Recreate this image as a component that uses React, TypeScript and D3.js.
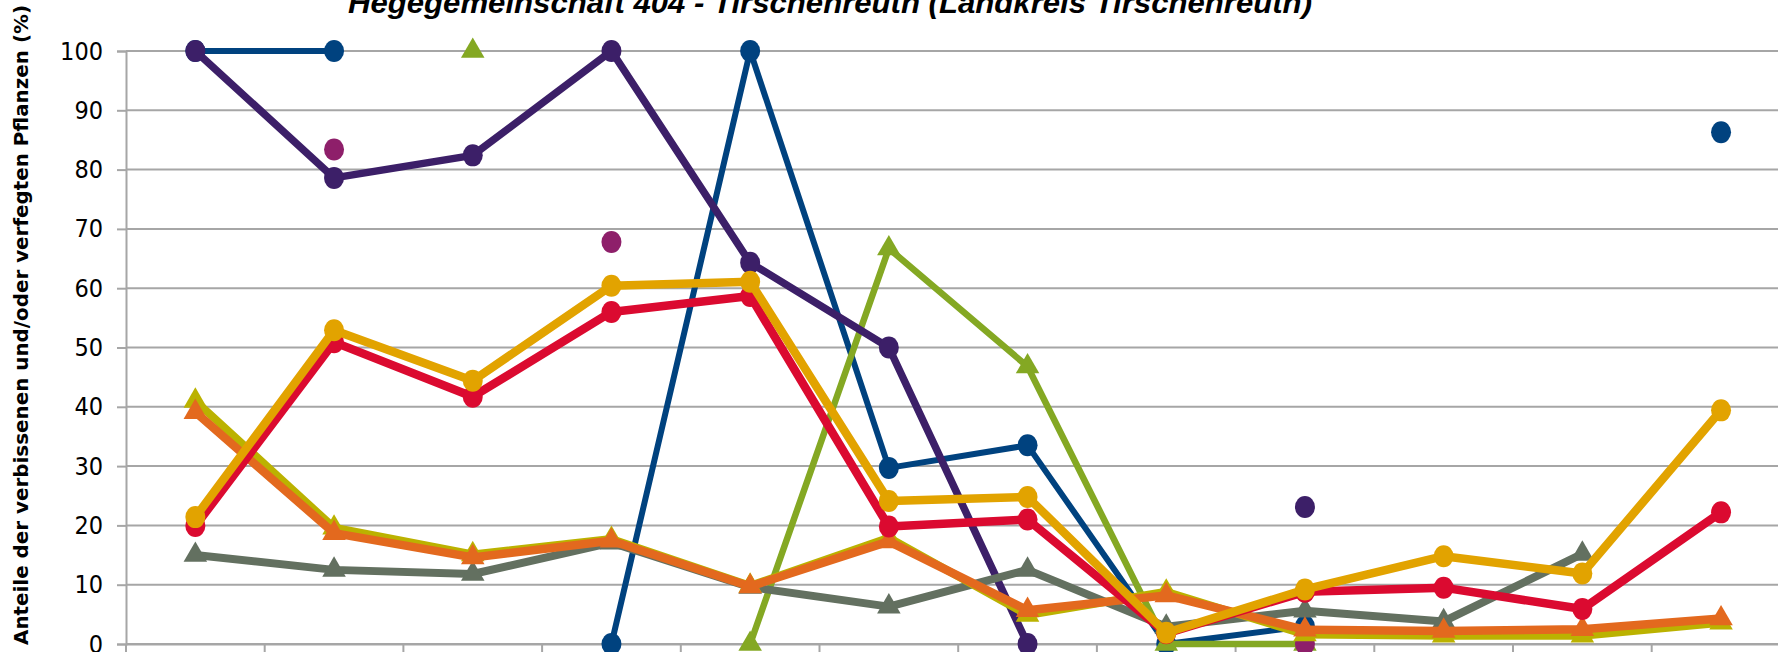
import React, { useEffect, useRef } from 'react';
import * as d3 from 'd3';

// Erhebungen (x-Achsenbeschriftung liegt ausserhalb des Bildausschnitts)
const categories = ['1991', '1994', '1997', '2000', '2003', '2006', '2009', '2012', '2015', '2018', '2021', '2024'];
const yTicks = [0, 10, 20, 30, 40, 50, 60, 70, 80, 90, 100];

type V = number | null;

const blau: V[] = [100, 100, null, 0, 100, 29.7, 33.5, 0, 3.0, null, null, 86.3];
const violett: V[] = [100, 78.6, 82.4, 100, 64.3, 50, 0, null, 23.1, null, null, null];
const magenta: V[] = [null, 83.4, null, 67.8, null, null, null, null, 0, null, null, null];
const gruen: V[] = [null, null, 100, null, 0, 66.7, 46.8, 0, 0, null, null, null];
const grau: V[] = [15.0, 12.5, 11.8, 17.1, 9.6, 6.3, 12.5, 2.9, 5.6, 3.8, 15.2, null];
const oliv: V[] = [41.0, 19.6, 15.1, 17.7, 9.8, 17.9, 4.9, 8.8, 1.6, 1.4, 1.4, 3.6];
const orange: V[] = [39.1, 18.7, 14.6, 17.4, 9.7, 17.3, 5.7, 8.2, 2.4, 2.2, 2.5, 4.3];
const rot: V[] = [19.9, 50.9, 41.7, 56.0, 58.7, 19.8, 21.0, 1.8, 8.8, 9.5, 5.9, 22.2];
const gelb: V[] = [21.4, 52.9, 44.4, 60.4, 61.1, 24.1, 24.8, 1.9, 9.2, 14.8, 11.9, 39.4];

// Zeichenreihenfolge: von unten nach oben
const series = [
  { values: blau, color: '#00427F', width: 6, marker: 'circle', line: true },
  { values: gruen, color: '#84A823', width: 6.5, marker: 'triangle', line: true },
  { values: violett, color: '#3C1F68', width: 7.5, marker: 'circle', line: true },
  { values: magenta, color: '#8E1F6A', width: 7, marker: 'circle', line: false },
  { values: grau, color: '#637060', width: 8, marker: 'triangle', line: true },
  { values: oliv, color: '#BBB200', width: 8, marker: 'triangle', line: true },
  { values: orange, color: '#E3691E', width: 8.5, marker: 'triangle', line: true },
  { values: rot, color: '#DB0A30', width: 8.5, marker: 'circle', line: true },
  { values: gelb, color: '#E2A300', width: 8.5, marker: 'circle', line: true },
];

const App: React.FC = () => {
  const svgRef = useRef<SVGSVGElement>(null);

  useEffect(() => {
    if (!svgRef.current) return;
    const width = 1778;
    const height = 652;
    const left = 126;
    const band = 138.7;

    const svg = d3.select(svgRef.current);
    svg.selectAll('*').remove();
    svg.attr('width', width).attr('height', height);

    svg.append('rect').attr('width', width).attr('height', height).attr('fill', '#fff');

    const x = d3.scaleBand<string>()
      .domain(categories)
      .range([left, left + band * categories.length]);

    const y = d3.scaleLinear().domain([0, 100]).range([644, 51]);

    // Gitterlinien
    svg.append('g')
      .selectAll('line')
      .data(yTicks)
      .enter()
      .append('line')
      .attr('x1', left)
      .attr('x2', width)
      .attr('y1', d => y(d))
      .attr('y2', d => y(d))
      .attr('stroke', '#A6A6A6')
      .attr('stroke-width', 2);

    // y-Achse
    svg.append('g')
      .attr('transform', `translate(${left},0)`)
      .call(d3.axisLeft(y).tickValues(yTicks).tickSize(9).tickPadding(14))
      .call(g => g.select('.domain').attr('stroke', '#A6A6A6').attr('stroke-width', 2))
      .call(g => g.selectAll('.tick line').attr('stroke', '#A6A6A6').attr('stroke-width', 2))
      .call(g => g.selectAll('.tick text')
        .attr('fill', '#000')
        .attr('font-size', 25)
        .attr('font-family', '"Liberation Sans Narrow", "DejaVu Sans Condensed", "Liberation Sans", sans-serif'));

    // x-Achse (nur Teilstriche sichtbar)
    svg.append('g')
      .attr('transform', `translate(0,${y(0)})`)
      .call(d3.axisBottom(x).tickSize(0).tickFormat(() => ''))
      .call(g => g.select('.domain').attr('stroke', '#A6A6A6').attr('stroke-width', 2));

    svg.append('g')
      .selectAll('line')
      .data(d3.range(categories.length + 1))
      .enter()
      .append('line')
      .attr('x1', i => left + i * band)
      .attr('x2', i => left + i * band)
      .attr('y1', y(0))
      .attr('y2', y(0) + 10)
      .attr('stroke', '#A6A6A6')
      .attr('stroke-width', 2);

    const cx = (i: number) => (x(categories[i]) as number) + x.bandwidth() / 2;

    const line = d3.line<V>()
      .defined(d => d != null)
      .x((_, i) => cx(i))
      .y(d => y(d as number));

    const tri = d3.symbol().type(d3.symbolTriangle).size(240);

    series.forEach(s => {
      const g = svg.append('g');
      if (s.line) {
        g.append('path')
          .datum(s.values)
          .attr('fill', 'none')
          .attr('stroke', s.color)
          .attr('stroke-width', s.width)
          .attr('stroke-linejoin', 'round')
          .attr('d', line);
      }
      const pts = s.values
        .map((v, i) => ({ v, i }))
        .filter(p => p.v != null);
      if (s.marker === 'circle') {
        g.selectAll('ellipse')
          .data(pts)
          .enter()
          .append('ellipse')
          .attr('cx', p => cx(p.i))
          .attr('cy', p => y(p.v as number))
          .attr('rx', 10)
          .attr('ry', 11)
          .attr('fill', s.color);
      } else {
        g.selectAll('path.m')
          .data(pts)
          .enter()
          .append('path')
          .attr('class', 'm')
          .attr('transform', p => `translate(${cx(p.i)},${y(p.v as number)})`)
          .attr('d', tri as any)
          .attr('fill', s.color);
      }
    });

    // Titel (oben angeschnitten)
    svg.append('text')
      .attr('x', 830)
      .attr('y', 13)
      .attr('text-anchor', 'middle')
      .attr('font-family', '"Liberation Sans", Arial, sans-serif')
      .attr('font-weight', 'bold')
      .attr('font-style', 'italic')
      .attr('font-size', 30)
      .attr('textLength', 964)
      .attr('lengthAdjust', 'spacingAndGlyphs')
      .text('Hegegemeinschaft 404 - Tirschenreuth (Landkreis Tirschenreuth)');

    // y-Achsentitel
    svg.append('text')
      .attr('transform', 'translate(28,325) rotate(-90)')
      .attr('text-anchor', 'middle')
      .attr('font-family', '"DejaVu Sans", sans-serif')
      .attr('font-weight', 'bold')
      .attr('font-size', 20)
      .attr('textLength', 640)
      .attr('lengthAdjust', 'spacingAndGlyphs')
      .text('Anteile der verbissenen und/oder verfegten Pflanzen (%)');
  }, []);

  return (
    <div style={{ position: 'absolute', left: 0, top: 0 }}>
      <svg ref={svgRef} style={{ display: 'block' }}></svg>
    </div>
  );
};

export default App;
